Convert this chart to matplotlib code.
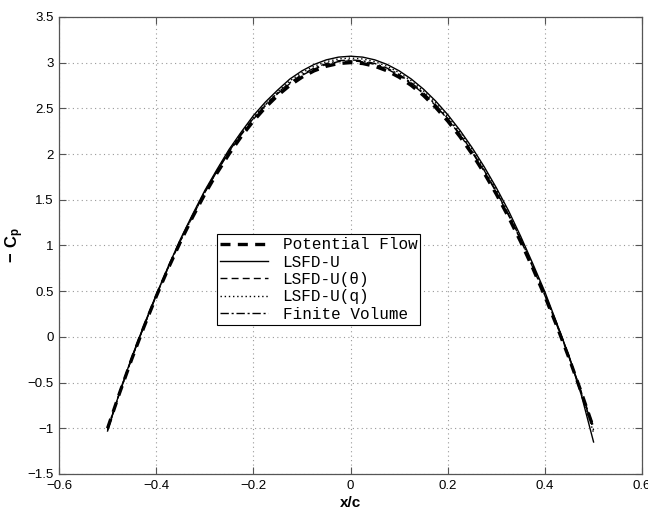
import matplotlib
matplotlib.use("Agg")
import matplotlib.pyplot as plt

# surface pressure, -Cp against x/c
x_c = [-0.500, -0.475, -0.450, -0.425, -0.400, -0.375, -0.350, -0.325, -0.300, -0.275,
       -0.250, -0.225, -0.200, -0.175, -0.150, -0.125, -0.100, -0.075, -0.050, -0.025,
       0.000, 0.025, 0.050, 0.075, 0.100, 0.125, 0.150, 0.175, 0.200, 0.225,
       0.250, 0.275, 0.300, 0.325, 0.350, 0.375, 0.400, 0.425, 0.450, 0.475, 0.500]

cp_potential = [-1.00, -0.61, -0.24, 0.11, 0.44, 0.75, 1.04, 1.31, 1.56, 1.79,
                2.00, 2.19, 2.36, 2.51, 2.64, 2.75, 2.84, 2.91, 2.96, 2.99,
                3.00, 2.99, 2.96, 2.91, 2.84, 2.75, 2.64, 2.51, 2.36, 2.19,
                2.00, 1.79, 1.56, 1.31, 1.04, 0.75, 0.44, 0.11, -0.24, -0.61, -1.00]
cp_lsfd = [-1.03, -0.60, -0.22, 0.13, 0.46, 0.77, 1.07, 1.34, 1.60, 1.83,
           2.05, 2.24, 2.42, 2.57, 2.70, 2.82, 2.91, 2.98, 3.03, 3.06,
           3.07, 3.06, 3.03, 2.98, 2.91, 2.82, 2.71, 2.58, 2.43, 2.26,
           2.07, 1.86, 1.63, 1.38, 1.10, 0.80, 0.49, 0.14, -0.22, -0.64, -1.15]
cp_lsfd_theta = [-1.01, -0.61, -0.23, 0.12, 0.45, 0.76, 1.05, 1.32, 1.58, 1.81,
                 2.02, 2.21, 2.38, 2.53, 2.66, 2.77, 2.86, 2.93, 2.98, 3.01,
                 3.02, 3.01, 2.98, 2.93, 2.86, 2.77, 2.66, 2.53, 2.38, 2.21,
                 2.02, 1.81, 1.58, 1.33, 1.06, 0.76, 0.45, 0.12, -0.23, -0.61, -1.02]
cp_lsfd_q = [-1.02, -0.61, -0.23, 0.12, 0.45, 0.77, 1.06, 1.33, 1.59, 1.82,
             2.04, 2.23, 2.40, 2.55, 2.68, 2.80, 2.89, 2.96, 3.01, 3.04,
             3.05, 3.04, 3.01, 2.96, 2.89, 2.80, 2.69, 2.56, 2.41, 2.24,
             2.05, 1.84, 1.61, 1.35, 1.08, 0.78, 0.47, 0.13, -0.22, -0.62, -1.05]
cp_fv = [-1.00, -0.61, -0.23, 0.12, 0.45, 0.76, 1.05, 1.32, 1.58, 1.81,
         2.03, 2.22, 2.39, 2.54, 2.67, 2.78, 2.87, 2.94, 2.99, 3.02,
         3.03, 3.02, 2.99, 2.94, 2.87, 2.78, 2.67, 2.54, 2.39, 2.22,
         2.03, 1.82, 1.59, 1.34, 1.07, 0.77, 0.46, 0.13, -0.22, -0.61, -0.98]

labels = ["Potential Flow", "LSFD-U", "LSFD-U(θ)", "LSFD-U(q)", "Finite Volume"]

plt.rcParams["font.family"] = ["Liberation Sans", "DejaVu Sans"]
plt.rcParams["mathtext.fontset"] = "custom"
plt.rcParams["mathtext.bf"] = "Liberation Sans:bold"
plt.rcParams["mathtext.rm"] = "Liberation Sans"

fig = plt.figure(figsize=(6.48, 5.2), dpi=100)
ax = fig.add_axes([0.091, 0.0885, 0.900, 0.879])

ax.plot(x_c, cp_potential, color="k", lw=2.4, ls=(0, (3, 2.2)), label=labels[0])
ax.plot(x_c, cp_lsfd, color="k", lw=1.0, ls="-", label=labels[1])
ax.plot(x_c, cp_lsfd_theta, color="k", lw=1.0, ls=(0, (5, 3)), label=labels[2])
ax.plot(x_c, cp_lsfd_q, color="k", lw=1.0, ls=(0, (1, 2)), label=labels[3])
ax.plot(x_c, cp_fv, color="k", lw=1.0, ls=(0, (6, 2, 1.5, 2)), label=labels[4])

ax.set_xlim(-0.6, 0.6)
ax.set_ylim(-1.5, 3.5)
ax.set_xticks([-0.6, -0.4, -0.2, 0, 0.2, 0.4, 0.6])
ax.set_yticks([-1.5, -1, -0.5, 0, 0.5, 1, 1.5, 2, 2.5, 3, 3.5])
ax.set_xticklabels(["−0.6", "−0.4", "−0.2", "0", "0.2", "0.4", "0.6"])
ax.set_yticklabels(["−1.5", "−1", "−0.5", "0", "0.5", "1", "1.5", "2", "2.5", "3", "3.5"])

ax.grid(True, color="#999999", ls=(0, (1, 3)), lw=0.8)
ax.tick_params(direction="in", top=True, right=True, length=5, width=0.8,
               color="#555555", labelsize=9.5, pad=4)
for s in ax.spines.values():
    s.set_color("#555555")
    s.set_linewidth(0.9)

ax.set_xlabel("x/c", fontsize=11, fontweight="bold", labelpad=3)
ax.set_ylabel(r"$\mathbf{-\ C_p}$", fontsize=12, labelpad=1)

leg = ax.legend(loc="upper left", bbox_to_anchor=(0.271, 0.525),
                prop={"family": ["Liberation Mono", "DejaVu Sans Mono"], "size": 11.5},
                frameon=True, fancybox=False, shadow=False, framealpha=1,
                borderpad=0.2, labelspacing=0.15, handlelength=3.0,
                handletextpad=0.9, borderaxespad=0)
leg.get_frame().set_edgecolor("k")
leg.get_frame().set_linewidth(0.8)

fig.savefig("out.png", dpi=100)
